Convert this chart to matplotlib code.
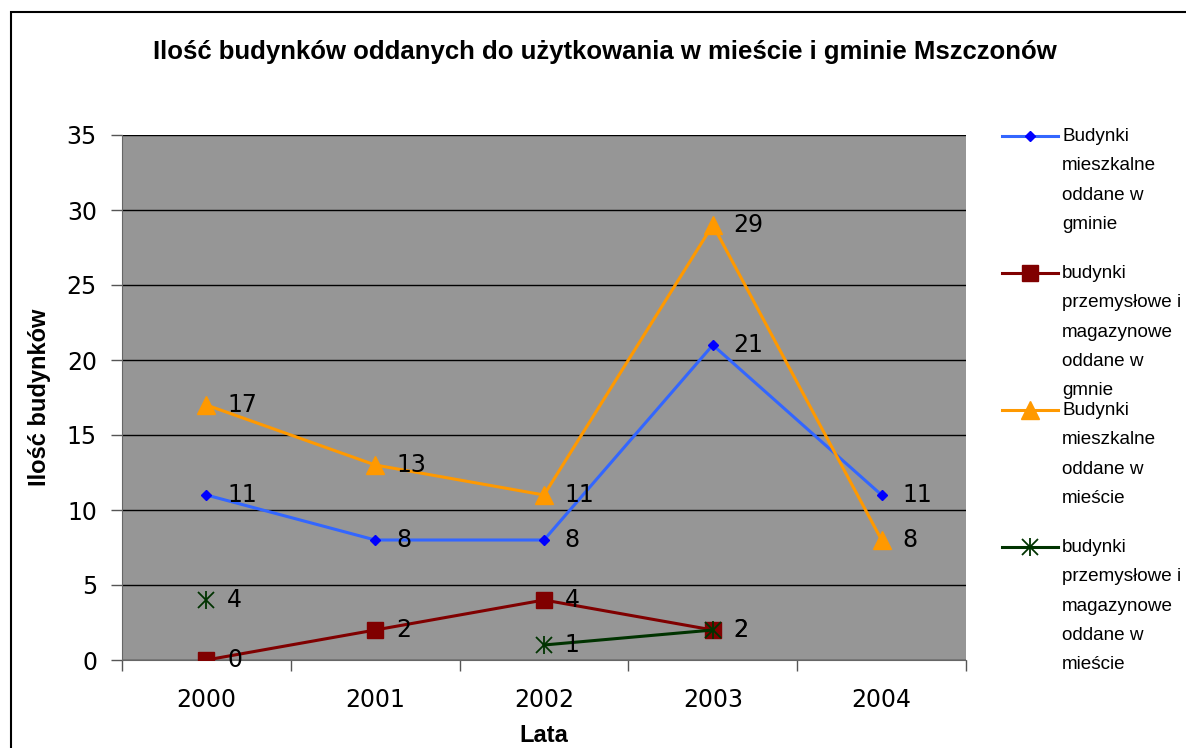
import numpy as np
import matplotlib.pyplot as plt
from matplotlib.lines import Line2D
from matplotlib.patches import Rectangle

plt.rcParams['font.family'] = ['Liberation Sans', 'DejaVu Sans']

years = ['2000', '2001', '2002', '2003', '2004']
miesz_gmina = [11, 8, 8, 21, 11]
przem_gmina = [0, 2, 4, 2, np.nan]
miesz_miasto = [17, 13, 11, 29, 8]
przem_miasto = [4, np.nan, 1, 2, np.nan]

labels = [
    "Budynki\nmieszkalne\noddane w\ngminie",
    "budynki\nprzemysłowe i\nmagazynowe\noddane w\ngmnie",
    "Budynki\nmieszkalne\noddane w\nmieście",
    "budynki\nprzemysłowe i\nmagazynowe\noddane w\nmieście",
]

styles = [
    dict(color='#3366FF', marker='D', mfc='#0000FF', mec='#0000FF', ms=5),
    dict(color='#800000', marker='s', mfc='#800000', mec='#800000', ms=11),
    dict(color='#FF9900', marker='^', mfc='#FF9900', mec='#FF9900', ms=13),
    dict(color='#003300', marker='x', mfc='#003300', mec='#003300', ms=11, mew=1.3),
]
series = [miesz_gmina, przem_gmina, miesz_miasto, przem_miasto]

fig = plt.figure(figsize=(11.86, 7.48), dpi=100)
ax = fig.add_axes([122 / 1186, 1 - 660 / 748, 844 / 1186, 525 / 748])
ax.set_facecolor('#969696')

x = np.arange(len(years))
for i, (vals, st) in enumerate(zip(series, styles)):
    ax.plot(x, vals, lw=2.2, zorder=3, **st)
    if i == 3:
        # vertical stroke of the asterisk marker
        ax.plot(x, vals, lw=0, marker='|', ms=13, mew=1.3, mec='#003300', zorder=3)
    for xi, v in zip(x, vals):
        if not np.isnan(v):
            ax.annotate(str(int(v)), (xi, v), xytext=(15, 0), textcoords='offset points',
                        va='center', ha='left', family='DejaVu Sans', fontsize=17, zorder=4)

ax.set_xlim(-0.5, 4.5)
ax.set_ylim(0, 35)
ax.set_yticks(range(0, 36, 5))
ax.set_xticks(x)
ax.set_xticklabels(years)
ax.set_xticks(np.arange(-0.5, 5, 1), minor=True)
for t in ax.get_xticklabels() + ax.get_yticklabels():
    t.set_fontfamily('DejaVu Sans')
    t.set_fontsize(17)
ax.tick_params(axis='x', which='major', length=0, pad=20)
ax.tick_params(axis='x', which='minor', length=8, width=1, color='#555555')
ax.tick_params(axis='y', length=8, width=1, color='#555555', pad=10)
ax.yaxis.grid(True, color='black', lw=1)
ax.set_axisbelow(True)
for s in ['top', 'right']:
    ax.spines[s].set_visible(False)
for s in ['left', 'bottom']:
    ax.spines[s].set_color('#666666')

ax.set_xlabel('Lata', fontsize=17, fontweight='bold')
ax.xaxis.set_label_coords(0.5, -0.122)
ax.set_ylabel('Ilość budynków', fontsize=17, fontweight='bold')
ax.yaxis.set_label_coords(-0.084, 0.5)

fig.text(605 / 1186, 1 - 52 / 748, 'Ilość budynków oddanych do użytkowania w mieście i gminie Mszczonów',
         ha='center', va='center', fontsize=18.5, fontweight='bold')

# legend
leg_y = [136, 273, 410, 547]
for i, (yy, lab, st) in enumerate(zip(leg_y, labels, styles)):
    yf = 1 - yy / 748
    fig.add_artist(Line2D([1002 / 1186, 1058 / 1186], [yf, yf], lw=2.2,
                          transform=fig.transFigure, color=st['color']))
    mst = {k: v for k, v in st.items() if k != 'color'}
    fig.add_artist(Line2D([1030 / 1186], [yf], transform=fig.transFigure, lw=0, **mst))
    if i == 3:
        fig.add_artist(Line2D([1030 / 1186], [yf], transform=fig.transFigure, lw=0,
                              marker='|', ms=13, mew=1.3, mec='#003300'))
    fig.text(1062 / 1186, yf + 8 / 748, lab, ha='left', va='top', fontsize=13.6, linespacing=1.95)

fig.add_artist(Rectangle((11 / 1186, -0.1), 1.2, 1 - 12 / 748 + 0.1, transform=fig.transFigure,
                         fill=False, ec='black', lw=1.5))

fig.savefig('out.png', dpi=100)
